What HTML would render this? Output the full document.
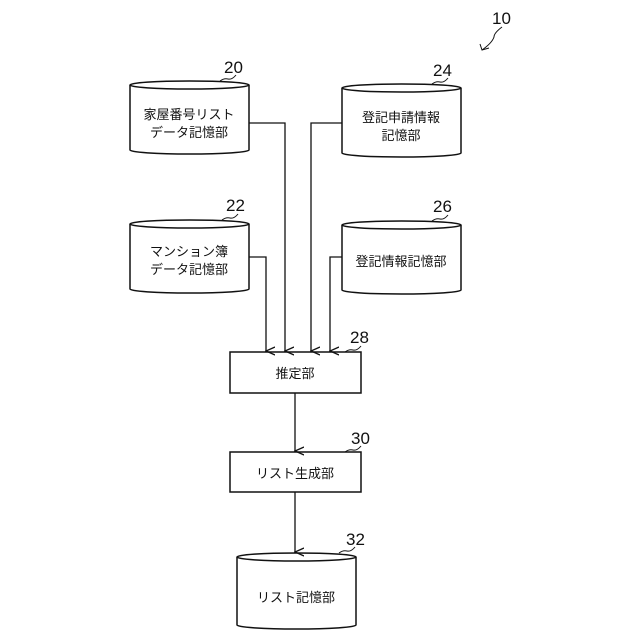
<!DOCTYPE html>
<html><head><meta charset="utf-8"><style>
html,body{margin:0;padding:0;background:#fff;}
svg{display:block}
text{font-family:"Liberation Sans","Noto Sans CJK JP",sans-serif;fill:#111;}
</style></head><body>
<svg width="640" height="640" viewBox="0 0 640 640" xmlns="http://www.w3.org/2000/svg">
<defs><marker id="a" markerWidth="10" markerHeight="10" refX="5" refY="9" orient="auto" markerUnits="userSpaceOnUse"><path d="M1,0 L5,9 L9,0" fill="none" stroke="#111" stroke-width="1.3"/></marker></defs>
<g fill="#fff" stroke="#111" stroke-width="1.5">
<!-- 20 -->
<path d="M130,85 V150 A59.5,4 0 0 0 249,150 V85"/><ellipse cx="189.5" cy="85" rx="59.5" ry="4"/>
<!-- 24 -->
<path d="M342,88 V153 A59.5,4 0 0 0 461,153 V88"/><ellipse cx="401.5" cy="88" rx="59.5" ry="4"/>
<!-- 22 -->
<path d="M130,224 V289 A59.5,4 0 0 0 249,289 V224"/><ellipse cx="189.5" cy="224" rx="59.5" ry="4"/>
<!-- 26 -->
<path d="M342,225 V290 A59.5,4 0 0 0 461,290 V225"/><ellipse cx="401.5" cy="225" rx="59.5" ry="4"/>
<!-- 32 -->
<path d="M237,557 V625 A59.5,4 0 0 0 356,625 V557"/><ellipse cx="296.5" cy="557" rx="59.5" ry="4"/>
<rect x="230" y="352" width="131" height="41"/>
<rect x="230" y="452" width="131" height="40"/>
</g>
<g fill="none" stroke="#111" stroke-width="1.3">
<path d="M249,123 H285 V351" marker-end="url(#a)"/>
<path d="M342,123 H311 V351" marker-end="url(#a)"/>
<path d="M249,257 H266 V351" marker-end="url(#a)"/>
<path d="M342,257 H330 V351" marker-end="url(#a)"/>
<path d="M295,393 V451" marker-end="url(#a)"/>
<path d="M295,492 V552" marker-end="url(#a)"/>
<!-- leader squiggles -->
<path d="M220,81 q4,-3 8,-2 q4,1 8,-4" stroke-width="1"/>
<path d="M432,84 q4,-3 8,-2 q4,1 8,-4" stroke-width="1"/>
<path d="M222,220 q4,-3 8,-2 q4,1 8,-4" stroke-width="1"/>
<path d="M432,221 q4,-3 8,-2 q4,1 8,-4" stroke-width="1"/>
<path d="M345,352 q4,-3 8,-2 q4,1 8,-4" stroke-width="1"/>
<path d="M345,452 q4,-3 8,-2 q4,1 8,-4" stroke-width="1"/>
<path d="M339,553 q4,-3 8,-2 q4,1 8,-4" stroke-width="1"/>
<path d="M502,27 q-8,6 -8,10 q-2,6 -12,13" stroke-width="1"/>
<path d="M480,44 l2,6 l7,-2" stroke-width="1"/>
</g>
<g font-size="17">
<text x="224" y="73">20</text>
<text x="433" y="76">24</text>
<text x="226" y="211">22</text>
<text x="433" y="212">26</text>
<text x="350" y="343">28</text>
<text x="351" y="444">30</text>
<text x="346" y="545">32</text>
<text x="492" y="24">10</text>
</g>
<g font-size="13" text-anchor="middle">
<text x="189" y="119">家屋番号リスト</text>
<text x="189" y="137">データ記憶部</text>
<text x="401" y="122">登記申請情報</text>
<text x="401" y="140">記憶部</text>
<text x="189" y="256">マンション簿</text>
<text x="189" y="274">データ記憶部</text>
<text x="401" y="266">登記情報記憶部</text>
<text x="295" y="378">推定部</text>
<text x="295" y="478">リスト生成部</text>
<text x="296" y="602">リスト記憶部</text>
</g>
</svg>
</body></html>
